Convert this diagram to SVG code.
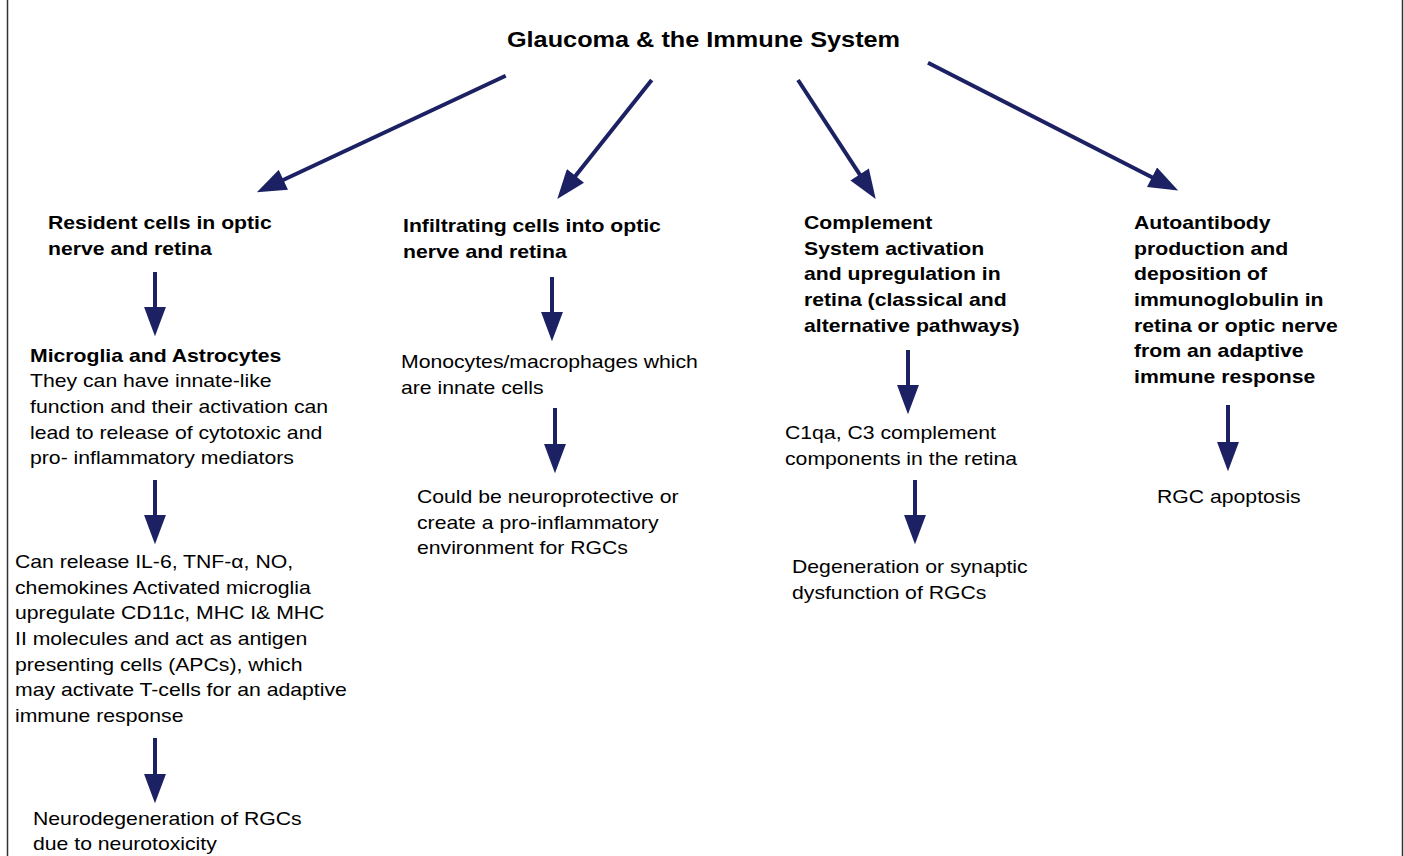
<svg xmlns="http://www.w3.org/2000/svg" width="1404" height="856" viewBox="0 0 1404 856">
<defs>
<style>
.t{font-family:"Liberation Sans",Arial,sans-serif;font-size:18.6px;fill:#000}
.b{font-weight:bold}
.title{font-family:"Liberation Sans",Arial,sans-serif;font-size:21.6px;font-weight:bold;fill:#000}
.c{stroke:#1b2162;stroke-width:4;fill:none;marker-end:url(#ah)}
.frame{stroke:#333;stroke-width:1.5}
</style>
<marker id="ah" markerUnits="userSpaceOnUse" markerWidth="30" markerHeight="22" refX="2" refY="10.5" orient="auto" viewBox="0 0 28 21">
<path d="M0,0 L28,10.5 L0,21 Z" fill="#1b2162"/>
</marker>
</defs>
<rect width="1404" height="856" fill="#fff"/>
<line class="frame" x1="7.5" y1="0" x2="7.5" y2="856"/>
<line class="frame" x1="1402.5" y1="0" x2="1402.5" y2="856"/>

<g id="title" transform="scale(1.17,1)">
<text class="title" x="433.3" y="47">Glaucoma &amp; the Immune System</text>
</g>

<g transform="scale(1.14,1)">
<g id="n-resident"><text class="t b" x="42.11" y="229">Resident cells in optic</text><text class="t b" x="42.11" y="255">nerve and retina</text></g>
<g id="n-microglia">
<text class="t b" x="26.32" y="362">Microglia and Astrocytes</text>
<text class="t" x="26.32" y="387">They can have innate-like</text>
<text class="t" x="26.32" y="413">function and their activation can</text>
<text class="t" x="26.32" y="439">lead to release of cytotoxic and</text>
<text class="t" x="26.32" y="464">pro- inflammatory mediators</text>
</g>
<g id="n-release">
<text class="t" x="13.16" y="568">Can release IL-6, TNF-α, NO,</text>
<text class="t" x="13.16" y="594">chemokines Activated microglia</text>
<text class="t" x="13.16" y="619">upregulate CD11c, MHC I&amp; MHC</text>
<text class="t" x="13.16" y="645">II molecules and act as antigen</text>
<text class="t" x="13.16" y="671">presenting cells (APCs), which</text>
<text class="t" x="13.16" y="696">may activate T-cells for an adaptive</text>
<text class="t" x="13.16" y="722">immune response</text>
</g>
<g id="n-neurodeg"><text class="t" x="28.95" y="825">Neurodegeneration of RGCs</text><text class="t" x="28.95" y="850">due to neurotoxicity</text></g>

<g id="n-infiltrating"><text class="t b" x="353.51" y="232">Infiltrating cells into optic</text><text class="t b" x="353.51" y="258">nerve and retina</text></g>
<g id="n-monocytes"><text class="t" x="351.75" y="368">Monocytes/macrophages which</text><text class="t" x="351.75" y="394">are innate cells</text></g>
<g id="n-neuroprot"><text class="t" x="365.79" y="503">Could be neuroprotective or</text><text class="t" x="365.79" y="529">create a pro-inflammatory</text><text class="t" x="365.79" y="554">environment for RGCs</text></g>

<g id="n-complement">
<text class="t b" x="705.26" y="229">Complement</text>
<text class="t b" x="705.26" y="255">System activation</text>
<text class="t b" x="705.26" y="280">and upregulation in</text>
<text class="t b" x="705.26" y="306">retina (classical and</text>
<text class="t b" x="705.26" y="332">alternative pathways)</text>
</g>
<g id="n-c1qa"><text class="t" x="688.6" y="439">C1qa, C3 complement</text><text class="t" x="688.6" y="465">components in the retina</text></g>
<g id="n-degeneration"><text class="t" x="694.74" y="573">Degeneration or synaptic</text><text class="t" x="694.74" y="599">dysfunction of RGCs</text></g>

<g id="n-autoantibody">
<text class="t b" x="994.74" y="229">Autoantibody</text>
<text class="t b" x="994.74" y="255">production and</text>
<text class="t b" x="994.74" y="280">deposition of</text>
<text class="t b" x="994.74" y="306">immunoglobulin in</text>
<text class="t b" x="994.74" y="332">retina or optic nerve</text>
<text class="t b" x="994.74" y="357">from an adaptive</text>
<text class="t b" x="994.74" y="383">immune response</text>
</g>
<g id="n-apoptosis"><text class="t" x="1014.91" y="503">RGC apoptosis</text></g>
</g>

<g id="connectors">
<line class="c" x1="505.7" y1="75.7" x2="281.5" y2="180.7"/>
<line class="c" x1="651.7" y1="80" x2="574.2" y2="177.6"/>
<line class="c" x1="798" y1="80" x2="860.8" y2="176.2"/>
<line class="c" x1="928" y1="62.7" x2="1153.9" y2="178.2"/>
<line class="c" x1="155" y1="272" x2="155" y2="309"/>
<line class="c" x1="155" y1="480" x2="155" y2="517"/>
<line class="c" x1="155" y1="738" x2="155" y2="776"/>
<line class="c" x1="552" y1="277" x2="552" y2="314"/>
<line class="c" x1="555" y1="408" x2="555" y2="446"/>
<line class="c" x1="908" y1="350" x2="908" y2="387"/>
<line class="c" x1="915" y1="480" x2="915" y2="517"/>
<line class="c" x1="1228" y1="405" x2="1228" y2="444"/>
</g>
</svg>
